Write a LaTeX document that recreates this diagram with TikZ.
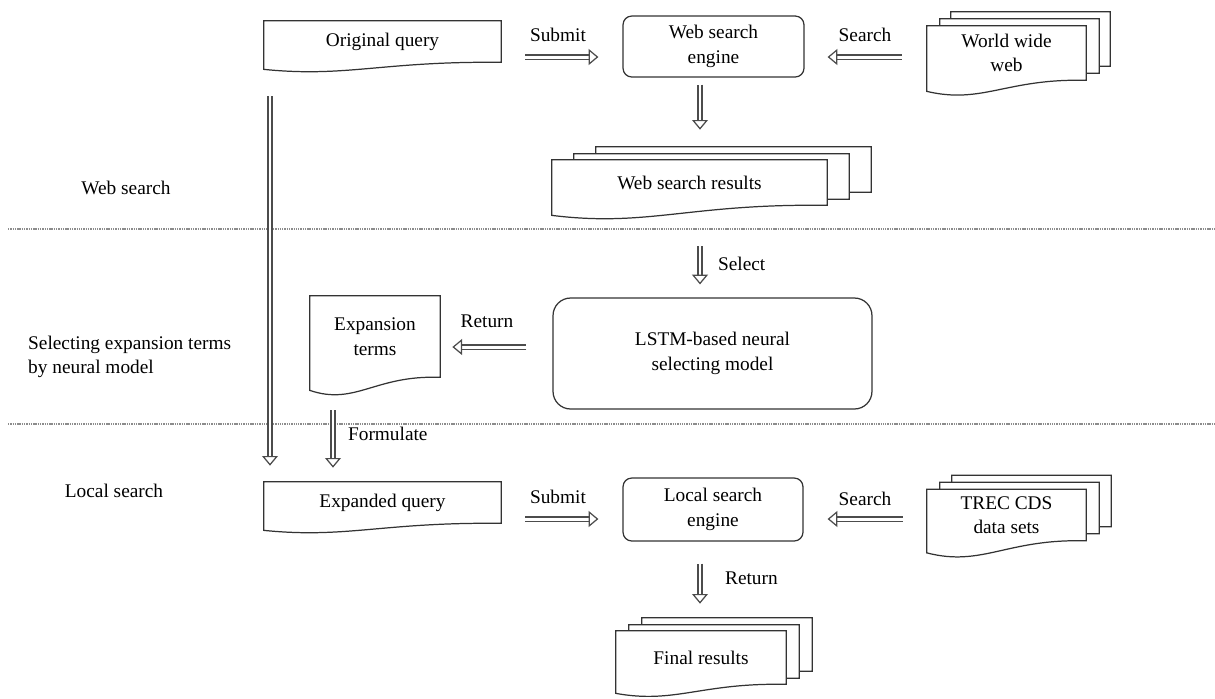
\documentclass[tikz,border=0pt]{standalone}
\usepackage{fontspec}
\setmainfont{Liberation Serif}
\usetikzlibrary{calc, arrows.meta}

\pgfdeclarelayer{background}
\pgfsetlayers{background,main}

\tikzset{
  docbox/.style={inner sep=0pt, align=center},
  docline/.style={draw=black!80, line width=0.7pt, fill=white},
  engine/.style={draw=black!80, line width=0.7pt, rounded corners=5pt, align=center, inner sep=0pt},
  hollow/.style={draw=black!70, line width=0.7pt, double=white, double distance=1.7pt,
    -{Triangle[open, length=5.5pt, width=9pt]}},
  lbl/.style={inner sep=1pt},
  sepline/.style={draw=black!45, line width=0.8pt, dash pattern=on 0.8pt off 0.5pt}
}

% document outline with a wavy lower edge
\newcommand{\docwave}[2]{(#1.north west) -- (#1.north east) -- (#1.south east)
  .. controls ($(#1.south east)!0.5!(#1.south west)+(0,-0.2*#2)$)
  and ($(#1.south east)!0.65!(#1.south west)+(0,2.2*#2)$) .. ($(#1.south west)+(0,#2)$) -- cycle}

\begin{document}
\begin{tikzpicture}[x=0.02cm, y=-0.02cm, font=\fontsize{11}{14}\selectfont]
    \useasboundingbox (0,0) rectangle (1215,698);

    % stage separators
    \draw[sepline] (8,229) -- (1215,229);
    \draw[sepline] (8,424) -- (1215,424);

    % stage names
    \node (lweb) at (126,188) {Web search};
    \node[anchor=west, align=left] (lsel) at (22,357) {Selecting expansion terms\\by neural model};
    \node (lloc) at (114,491) {Local search};

    % web search
    \node[docbox, minimum width=4.74cm, minimum height=0.82cm] (orig) at (382.5,41.5) {Original query};
    \node[engine, minimum width=3.62cm, minimum height=1.22cm] (wse) at (713.5,46.5) {Web search\\engine};
    \node[docbox, minimum width=3.18cm, minimum height=1.08cm] (www) at (1006.5,53) {World wide\\web};
    \node[docbox, minimum width=3.18cm, minimum height=1.08cm] (www2) at ($(www)+(13,-7)$) {};
    \node[docbox, minimum width=3.18cm, minimum height=1.08cm] (www3) at ($(www)+(24,-14)$) {};
    \node[docbox, minimum width=5.5cm, minimum height=0.9cm] (wsr) at (689.5,182.5) {Web search results};
    \node[docbox, minimum width=5.5cm, minimum height=0.9cm] (wsr2) at ($(wsr)+(22,-6)$) {};
    \node[docbox, minimum width=5.5cm, minimum height=0.9cm] (wsr3) at ($(wsr)+(44,-13)$) {};

    % neural model
    \node[docbox, minimum width=2.6cm, minimum height=1.62cm] (exp) at (375,336.5) {Expansion\\terms};
    \node[engine, rounded corners=10pt, minimum width=6.38cm, minimum height=2.22cm] (lstm) at (712.5,353.5)
        {LSTM-based neural\\selecting model};

    % local search
    \node[docbox, minimum width=4.74cm, minimum height=0.82cm] (expq) at (382.5,502.5) {Expanded query};
    \node[engine, minimum width=3.6cm, minimum height=1.26cm] (lse) at (713,509.5) {Local search\\engine};
    \node[docbox, minimum width=3.18cm, minimum height=1.02cm] (trec) at (1006.5,515) {TREC CDS\\data sets};
    \node[docbox, minimum width=3.18cm, minimum height=1.02cm] (trec2) at ($(trec)+(13,-7)$) {};
    \node[docbox, minimum width=3.18cm, minimum height=1.02cm] (trec3) at ($(trec)+(25,-14)$) {};
    \node[docbox, minimum width=3.4cm, minimum height=1.06cm] (final) at (701,657.5) {Final results};
    \node[docbox, minimum width=3.4cm, minimum height=1.06cm] (final2) at ($(final)+(13,-6)$) {};
    \node[docbox, minimum width=3.4cm, minimum height=1.06cm] (final3) at ($(final)+(26,-13)$) {};

    % the paper shapes go behind the texts
    \begin{pgfonlayer}{background}
        \draw[docline] \docwave{orig}{7};
        \draw[docline] \docwave{www3}{11};
        \draw[docline] \docwave{www2}{11};
        \draw[docline] \docwave{www}{11};
        \draw[docline] \docwave{wsr3}{10};
        \draw[docline] \docwave{wsr2}{10};
        \draw[docline] \docwave{wsr}{10};
        \draw[docline] \docwave{exp}{13};
        \draw[docline] \docwave{expq}{7};
        \draw[docline] \docwave{trec3}{12};
        \draw[docline] \docwave{trec2}{12};
        \draw[docline] \docwave{trec}{12};
        \draw[docline] \docwave{final3}{9};
        \draw[docline] \docwave{final2}{9};
        \draw[docline] \docwave{final}{9};
    \end{pgfonlayer}

    % flow
    \draw[hollow, shorten <=0.48cm, shorten >=0.48cm] (orig.east |- 0,57) -- (wse.west |- 0,57);
    \node[lbl] (sub1) at (558,35) {Submit};
    \draw[hollow, shorten <=0.5cm, shorten >=0.46cm] (www.west |- 0,57) -- (wse.east |- 0,57);
    \node[lbl] (srch1) at (865,35) {Search};
    \draw[hollow, shorten <=0.14cm, shorten >=0.6cm] (wse.south -| 700,0) -- (wsr.north -| 700,0);
    \draw[hollow, shorten <=0.82cm, shorten >=0.26cm] (wsr.south -| 700,0) -- (lstm.north -| 700,0);
    \node[lbl, anchor=west] (sel) at (716,264) {Select};
    \draw[hollow, shorten <=0.52cm, shorten >=0.24cm] (lstm.west |- 0,347) -- (exp.east |- 0,347);
    \node[lbl] (ret1) at (487,321) {Return};
    \draw[hollow, shorten <=0.66cm, shorten >=0.28cm] (exp.south -| 333,0) -- (expq.north -| 333,0);
    \node[lbl, anchor=west] (form) at (346,434) {Formulate};
    \draw[hollow, shorten <=0.68cm, shorten >=0.32cm] (orig.south -| 270,0) -- (expq.north -| 270,0);
    \draw[hollow, shorten <=0.48cm, shorten >=0.48cm] (expq.east |- 0,519) -- (lse.west |- 0,519);
    \node[lbl] (sub2) at (558,497) {Submit};
    \draw[hollow, shorten <=0.48cm, shorten >=0.48cm] (trec.west |- 0,519) -- (lse.east |- 0,519);
    \node[lbl] (srch2) at (865,499) {Search};
    \draw[hollow, shorten <=0.44cm, shorten >=0.54cm] (lse.south -| 700,0) -- (final.north -| 700,0);
    \node[lbl, anchor=west] (ret2) at (723,578) {Return};
\end{tikzpicture}
\end{document}
